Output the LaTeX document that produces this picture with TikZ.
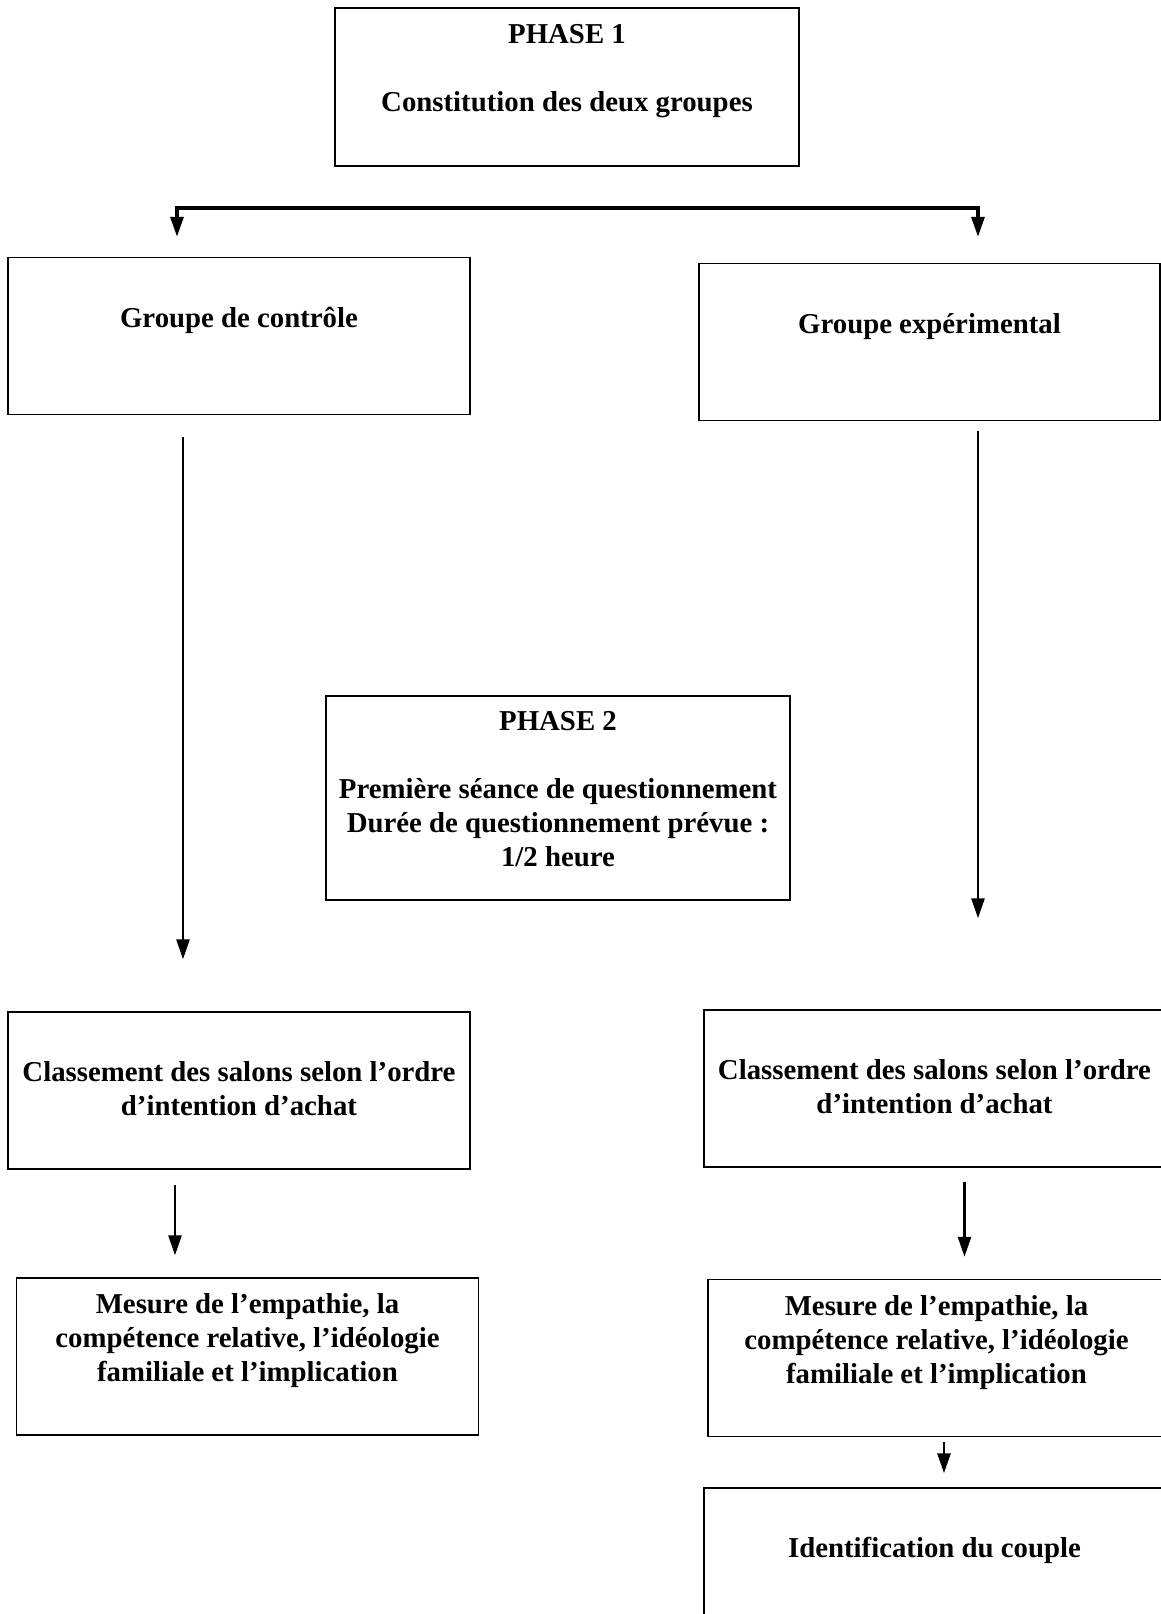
\documentclass[tikz,border=0pt]{standalone}
\usepackage{fontspec}
\setmainfont{Liberation Serif}
\usetikzlibrary{arrows.meta}

\begin{document}
\begin{tikzpicture}[x=0.5pt, y=-0.5pt,
	main box/.style={draw, line width=0.7pt, minimum width=231pt, minimum height=78.5pt, inner sep=0pt, align=center, font=\fontsize{14.4}{17}\selectfont\bfseries},
	top text/.style={text depth=19pt},
	flow/.style={-{Triangle[length=10pt, width=6.5pt]}, line width=1.3pt},
	split/.style={{Triangle[length=10pt, width=6.5pt]}-{Triangle[length=10pt, width=6.5pt]}, line width=1.6pt}]

			\useasboundingbox (0,0) rectangle (1161,1614);

			\node[main box, top text, minimum width=232pt, minimum height=79pt] (p1) at (567,87) {PHASE 1\\[17pt]Constitution des deux groupes};

			\node[main box, top text] (ctl) at (239,336) {Groupe de contr\^ole};
			\node[main box, top text, minimum width=230.5pt] (exp) at (929.5,342) {Groupe exp\'erimental};

			\node[main box, text depth=9pt, minimum width=232pt, minimum height=102pt] (p2) at (558,798) {PHASE 2\\[17pt]Premi\`ere s\'eance de questionnement\\Dur\'ee de questionnement pr\'evue :\\1/2 heure};

			\node[main box, text depth=2.2pt] (clL) at (239,1090.5) {Classement des salons selon l'ordre\\d'intention d'achat};
			\node[main box, text depth=2.2pt, minimum width=230.5pt] (clR) at (934.5,1088.5) {Classement des salons selon l'ordre\\d'intention d'achat};

			\node[main box, top text] (mesL) at (247.5,1356.5) {Mesure de l'empathie, la\\comp\'etence relative, l'id\'eologie\\familiale et l'implication};
			\node[main box, top text, minimum width=228.5pt] (mesR) at (936.5,1358) {Mesure de l'empathie, la\\comp\'etence relative, l'id\'eologie\\familiale et l'implication};

			\node[main box, top text, minimum width=230.5pt] (idt) at (934.5,1566.5) {Identification du couple};

			% split into the two groups
			\coordinate (bar) at (577,208);
			\draw[split, shorten <=10pt, shorten >=13pt] ([xshift=-31pt]ctl.north) |- (bar) -| ([xshift=24.25pt]exp.north);

			% control group
			\draw[flow, shorten <=11pt, shorten >=26pt] ([xshift=-28pt]ctl.south) -- ([xshift=-28pt]clL.north);
			\draw[flow, shorten <=7.5pt, shorten >=11pt] ([xshift=-32pt]clL.south) -- ([xshift=-36.25pt]mesL.north);

			% experimental group
			\draw[flow, shorten <=5pt, shorten >=45.5pt] ([xshift=24.25pt]exp.south) -- ([xshift=21.75pt]clR.north);
			\draw[flow, shorten <=7pt, shorten >=11pt] ([xshift=15pt]clR.south) -- ([xshift=14pt]mesR.north);
			\draw[flow, shorten <=2.5pt, shorten >=7pt] ([xshift=3.75pt]mesR.south) -- ([xshift=4.75pt]idt.north);

		\end{tikzpicture}
\end{document}
